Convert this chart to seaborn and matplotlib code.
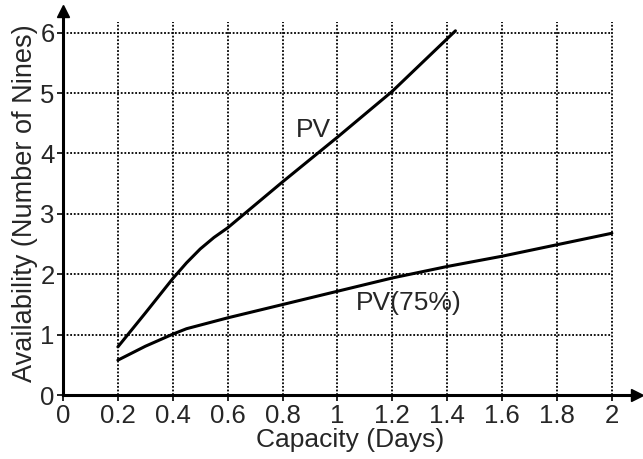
import numpy as np
import pandas as pd
import matplotlib
matplotlib.use("Agg")
import matplotlib.pyplot as plt
import seaborn as sns

# Data
pv_x = [0.2, 0.3, 0.4, 0.45, 0.5, 0.55, 0.6, 0.7, 0.8, 1.0, 1.2, 1.43]
pv_y = [0.80, 1.36, 1.93, 2.19, 2.42, 2.61, 2.77, 3.15, 3.53, 4.27, 5.03, 6.03]
pv75_x = [0.2, 0.3, 0.4, 0.45, 0.5, 0.6, 0.8, 1.0, 1.2, 1.4, 1.6, 1.8, 2.0]
pv75_y = [0.58, 0.81, 1.01, 1.10, 1.16, 1.28, 1.50, 1.72, 1.94, 2.13, 2.30, 2.49, 2.68]
x_ticks = [0, 0.2, 0.4, 0.6, 0.8, 1, 1.2, 1.4, 1.6, 1.8, 2]
x_tick_labels = ["0", "0.2", "0.4", "0.6", "0.8", "1", "1.2", "1.4", "1.6", "1.8", "2"]
y_ticks = [0, 1, 2, 3, 4, 5, 6]
series_labels = ["PV", "PV(75%)"]

df = pd.DataFrame({
    "x": pv_x + pv75_x,
    "y": pv_y + pv75_y,
    "series": [series_labels[0]] * len(pv_x) + [series_labels[1]] * len(pv75_x),
})

sns.set_style("white")
plt.rcParams["font.family"] = ["Liberation Sans", "DejaVu Sans"]

fig = plt.figure(figsize=(6.43, 4.59), dpi=100)
ax = fig.add_axes([0.098, 0.139, 0.892, 0.836])

xmax, ymax = 2.09, 6.35
ax.set_xlim(0, xmax)
ax.set_ylim(0, ymax)

# dotted grid limited to the data region
ax.vlines(x_ticks[1:], 0, 6.17, colors="black", linestyles=(0, (1, 1)), linewidth=1.3, zorder=1)
ax.hlines(y_ticks[1:], 0, 2.0, colors="black", linestyles=(0, (1, 1)), linewidth=1.3, zorder=1)

sns.lineplot(data=df, x="x", y="y", hue="series", palette=["black", "black"],
             linewidth=2.2, legend=False, ax=ax, sort=False, zorder=3)

for s in ["top", "right"]:
    ax.spines[s].set_visible(False)
for s in ["left", "bottom"]:
    ax.spines[s].set_linewidth(2.2)
    ax.spines[s].set_color("black")

# arrowheads on axes
ax.plot(1, 0, ">k", markersize=9, transform=ax.get_yaxis_transform(), clip_on=False)
ax.plot(0, 1, "^k", markersize=9, transform=ax.get_xaxis_transform(), clip_on=False)

ax.set_xticks(x_ticks)
ax.set_xticklabels(x_tick_labels)
ax.set_yticks(y_ticks)
ax.tick_params(axis="both", which="major", labelsize=18.5, length=4, width=1.2,
               direction="out", color="black", pad=2, bottom=True, left=True)

ax.set_xlabel("Capacity (Days)", fontsize=19, labelpad=0)
ax.set_ylabel("Availability (Number of Nines)", fontsize=19.5, labelpad=2)

ax.text(0.975, 4.39, series_labels[0], fontsize=19, ha="right", va="center")
ax.text(1.066, 1.52, series_labels[1], fontsize=19, ha="left", va="center")

fig.savefig("out.png", dpi=100, facecolor="white")
